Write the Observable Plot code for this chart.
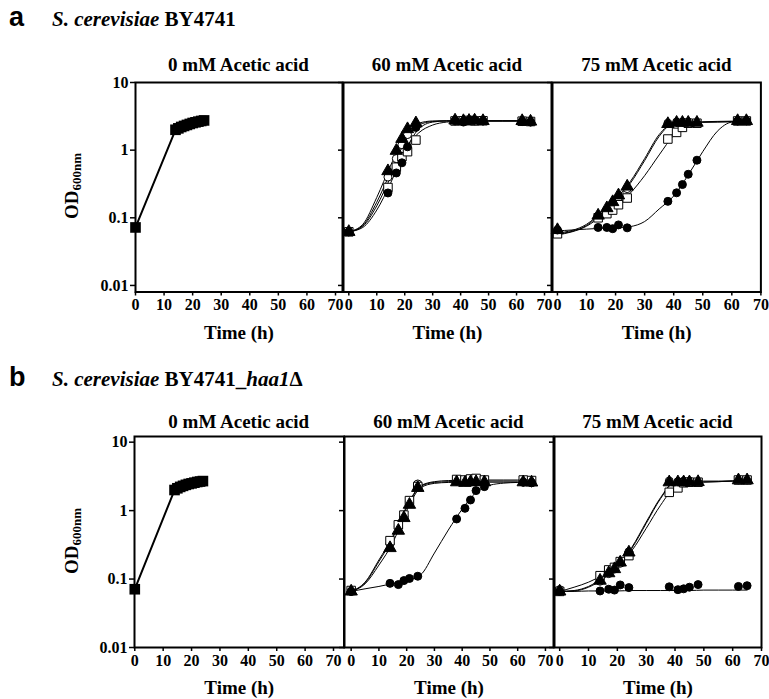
<!DOCTYPE html>
<html><head><meta charset="utf-8">
<script src="https://cdn.jsdelivr.net/npm/d3@7"></script>
<script src="https://cdn.jsdelivr.net/npm/@observablehq/plot@0.6"></script>
<style>
body{margin:0;background:#fff;}
#chart{position:relative;width:769px;height:699px;font-family:"Liberation Serif","Times New Roman",serif;color:#000;overflow:hidden;}
.abs{position:absolute;white-space:nowrap;line-height:1;}
.letter{font-family:"Liberation Sans",Arial,sans-serif;font-weight:bold;font-size:27px;}
.strain{font-weight:bold;font-size:21px;}
.ptitle{font-weight:bold;font-size:19px;text-align:center;}
.ylab{font-weight:bold;font-size:19px;transform:translate(-50%,-50%) rotate(-90deg);}
.ylab sub{font-size:13px;vertical-align:-3px;}
</style></head><body><div id="chart"></div>
<script>
// ---------- data ----------
const xTicks = [0, 10, 20, 30, 40, 50, 60, 70];
const yTicks = [0.01, 0.1, 1, 10];
const yTickLabels = ["0.01", "0.1", "1", "10"];
const panelTitles = ["0 mM Acetic acid", "60 mM Acetic acid", "75 mM Acetic acid"];

// sampling times (h)
const zeroT = [0, 14, 15, 16, 17, 18, 19, 20, 21, 22, 23, 24];
const sampleT = [0, 14, 17, 19, 21, 24, 38, 41, 43, 45, 48, 62, 65];
const fitT = [0, 5, 10, 15, 20, 25, 30, 35, 40, 45, 50, 55, 60, 65];

// series keys (marker): filled circle, open square, filled triangle, open circle
const seriesKeys = ["circle", "square", "triangle", "ocircle"];

// ----- a: S. cerevisiae BY4741 -----
const a0 = [0.072, 2.0, 2.1, 2.2, 2.28, 2.36, 2.44, 2.52, 2.58, 2.64, 2.7, 2.75];

const a60_circle   = [0.062, 0.233, 0.46, 0.65, 1.12, 2.17, 2.72, 2.6, 2.75, 2.8, 2.7, 2.65, 2.6];
const a60_square   = [0.062, 0.28, 0.56, 0.8, 0.95, 1.41, 2.7, 2.72, 2.75, 2.7, 2.72, 2.68, 2.65];
const a60_triangle = [0.062, 0.49, 0.98, 1.47, 2.05, 2.5, 2.75, 2.7, 2.72, 2.75, 2.7, 2.7, 2.65];
const a60_ocircle  = [0.062, 0.40, 0.75, 1.2, 1.7, 2.3, 2.7, 2.65, 2.7, 2.7, 2.7, 2.65, 2.62];
const a60fit_circle   = [0.062, 0.072, 0.13, 0.33, 0.95, 2.05, 2.6, 2.7, 2.7, 2.7, 2.7, 2.7, 2.7, 2.7];
const a60fit_square   = [0.062, 0.075, 0.15, 0.40, 1.0, 1.8, 2.35, 2.6, 2.68, 2.7, 2.7, 2.7, 2.7, 2.7];
const a60fit_triangle = [0.062, 0.08, 0.2, 0.6, 1.55, 2.5, 2.7, 2.72, 2.72, 2.72, 2.72, 2.72, 2.72, 2.72];
const a60fit_ocircle  = [0.062, 0.077, 0.17, 0.48, 1.3, 2.35, 2.65, 2.7, 2.7, 2.7, 2.7, 2.7, 2.7, 2.7];

const a75_circle   = [0.066, 0.072, 0.072, 0.069, 0.0785, 0.071, 0.175, 0.234, 0.31, 0.44, 0.71, 2.7, 2.72];
const a75_square   = [0.058, 0.10, 0.115, 0.13, 0.156, 0.196, 1.46, 1.83, 2.17, 2.5, 2.5, 2.7, 2.7];
const a75_triangle = [0.066, 0.108, 0.139, 0.171, 0.215, 0.29, 2.44, 2.55, 2.55, 2.55, 2.55, 2.7, 2.7];
const a75_ocircle  = [0.062, 0.105, 0.13, 0.16, 0.2, 0.27, 2.5, 2.6, 2.6, 2.6, 2.55, 2.7, 2.72];
const a75fit_circle   = [0.064, 0.066, 0.068, 0.07, 0.071, 0.074, 0.088, 0.135, 0.21, 0.43, 0.95, 1.9, 2.6, 2.7];
const a75fit_square   = [0.056, 0.062, 0.075, 0.105, 0.15, 0.23, 0.42, 0.85, 1.65, 2.4, 2.62, 2.66, 2.68, 2.7];
const a75fit_triangle = [0.06, 0.065, 0.08, 0.12, 0.19, 0.34, 0.75, 1.7, 2.5, 2.55, 2.58, 2.6, 2.62, 2.65];
const a75fit_ocircle  = [0.058, 0.063, 0.077, 0.115, 0.18, 0.32, 0.7, 1.6, 2.5, 2.58, 2.6, 2.62, 2.65, 2.68];

// ----- b: S. cerevisiae BY4741_haa1Δ -----
const b0 = [0.071, 2.0, 2.12, 2.22, 2.3, 2.38, 2.45, 2.5, 2.56, 2.62, 2.66, 2.7];

const b60_circle   = [0.066, 0.0865, 0.083, 0.095, 0.102, 0.11, 0.755, 1.08, 1.43, 1.96, 2.24, 2.6, 2.55];
const b60_square   = [0.068, 0.364, 0.62, 0.86, 1.4, 2.25, 2.85, 2.8, 2.9, 2.95, 2.8, 2.8, 2.75];
const b60_triangle = [0.066, 0.284, 0.51, 0.78, 1.22, 2.15, 2.6, 2.55, 2.6, 2.62, 2.6, 2.6, 2.58];
const b60_ocircle  = [0.066, 0.33, 0.58, 0.83, 1.35, 2.45, 2.7, 2.65, 2.7, 2.75, 2.6, 2.6, 2.55];
const b60fit_circle   = [0.066, 0.072, 0.078, 0.086, 0.096, 0.115, 0.24, 0.52, 1.05, 1.85, 2.35, 2.52, 2.58, 2.6];
const b60fit_square   = [0.066, 0.09, 0.19, 0.42, 1.15, 2.3, 2.65, 2.75, 2.78, 2.8, 2.8, 2.8, 2.8, 2.8];
const b60fit_triangle = [0.066, 0.085, 0.16, 0.34, 1.0, 2.15, 2.5, 2.58, 2.6, 2.6, 2.6, 2.6, 2.6, 2.6];
const b60fit_ocircle  = [0.066, 0.088, 0.18, 0.40, 1.1, 2.25, 2.58, 2.65, 2.68, 2.7, 2.7, 2.7, 2.7, 2.7];

const b75_circle   = [0.066, 0.067, 0.071, 0.069, 0.082, 0.075, 0.077, 0.07, 0.072, 0.076, 0.083, 0.078, 0.08];
const b75_square   = [0.066, 0.112, 0.136, 0.148, 0.18, 0.22, 1.85, 2.15, 2.55, 2.6, 2.6, 2.8, 2.8];
const b75_triangle = [0.066, 0.095, 0.122, 0.14, 0.175, 0.245, 2.6, 2.6, 2.6, 2.6, 2.62, 2.78, 2.78];
const b75_ocircle  = [0.07, 0.093, 0.12, 0.14, 0.17, 0.25, 2.7, 2.65, 2.7, 2.7, 2.65, 2.8, 2.8];
const b75fit_circle   = [0.066, 0.066, 0.067, 0.067, 0.067, 0.068, 0.068, 0.068, 0.068, 0.068, 0.069, 0.069, 0.069, 0.069];
const b75fit_square   = [0.066, 0.076, 0.09, 0.115, 0.16, 0.26, 0.55, 1.2, 2.2, 2.55, 2.6, 2.65, 2.7, 2.75];
const b75fit_triangle = [0.066, 0.067, 0.076, 0.1, 0.15, 0.28, 0.65, 1.5, 2.6, 2.62, 2.63, 2.65, 2.7, 2.72];
const b75fit_ocircle  = [0.066, 0.068, 0.078, 0.105, 0.155, 0.29, 0.68, 1.55, 2.65, 2.68, 2.7, 2.7, 2.72, 2.75];

// ---------- build ----------
const chart = document.getElementById("chart");
function rows(ts, vs, s) { return ts.map((t, i) => ({t, v: vs[i], s})); }
function group(times, arrs) { return seriesKeys.flatMap((k, i) => rows(times, arrs[i], k)); }

const markerStyle = {
  square:   {symbol: "square",   fill: "white", stroke: "black", r: 4.8},
  triangle: {symbol: "triangle", fill: "black", stroke: "black", r: 4.6},
  circle:   {symbol: "circle",   fill: "black", stroke: "black", r: 4},
  ocircle:  {symbol: "circle",   fill: "white", stroke: "black", r: 4}
};
const drawOrder = ["ocircle", "square", "triangle", "circle"];

const fontStack = "'Liberation Serif','Times New Roman',serif";

function addPanel(cfg) {
  const mL = 60, mR = 12, mT = 10, mB = 60;
  const W = cfg.fr - cfg.fl + mL + mR, H = cfg.fb - cfg.ft + mT + mB;
  const marks = [
    Plot.axisY({ticks: yTicks, tickSize: 5, tickPadding: 2, strokeWidth: 1.5,
      tickFormat: cfg.showY ? (d => yTickLabels[yTicks.indexOf(d)]) : (() => ""),
      fontSize: 16, fontWeight: "bold", label: null}),
    Plot.axisX({ticks: xTicks, tickSize: 4, tickPadding: 3, strokeWidth: 1.5,
      tickFormat: d => String(d), fontSize: 16, fontWeight: "bold", label: null}),
    Plot.text(["Time (h)"], {text: d => d, frameAnchor: "bottom", dy: 40.5, lineAnchor: "middle",
      fontSize: 19, fontWeight: "bold"})
  ];
  if (cfg.zero) {
    const d = rows(zeroT, cfg.zero, "control");
    marks.push(Plot.line(d, {x: "t", y: "v", stroke: "black", strokeWidth: 2}));
    marks.push(Plot.dot(d, {x: "t", y: "v", symbol: "square", fill: "black", r: 6}));
  } else {
    const fits = group(fitT, cfg.fit);
    const pts = group(sampleT, cfg.pts);
    marks.push(Plot.line(fits, {x: "t", y: "v", z: "s", stroke: "black", strokeWidth: 1, curve: "monotone-x"}));
    for (const k of drawOrder) {
      const st = markerStyle[k];
      marks.push(Plot.dot(pts.filter(p => p.s === k), {x: "t", y: "v", symbol: st.symbol, fill: st.fill, stroke: st.stroke, strokeWidth: 1, r: st.r}));
    }
  }
  marks.push(Plot.frame({stroke: "black", strokeWidth: 2}));
  const svg = Plot.plot({
    width: W, height: H, marginLeft: mL, marginRight: mR, marginTop: mT, marginBottom: mB,
    x: {domain: cfg.xdom},
    y: {type: "log", domain: cfg.ydom},
    style: {background: "transparent", overflow: "visible", fontFamily: fontStack, fontWeight: "bold", fontSize: "16px", color: "black"},
    marks
  });
  const wrap = document.createElement("div");
  wrap.className = "abs";
  wrap.style.left = (cfg.fl - mL) + "px";
  wrap.style.top = (cfg.ft - mT) + "px";
  wrap.style.width = W + "px";
  wrap.appendChild(svg);
  chart.appendChild(wrap);
  const t = document.createElement("div");
  t.className = "abs ptitle";
  t.style.left = cfg.fl + "px";
  t.style.width = (cfg.fr - cfg.fl) + "px";
  t.style.top = cfg.titleTop + "px";
  t.textContent = cfg.title;
  chart.appendChild(t);
}

function addHeader(letter, html, baseline) {
  const l = document.createElement("div");
  l.className = "abs letter";
  l.style.left = "9px";
  l.style.top = (baseline - 0.8465 * 27) + "px";
  l.textContent = letter;
  chart.appendChild(l);
  const s = document.createElement("div");
  s.className = "abs strain";
  s.style.left = "52px";
  s.style.top = (baseline - 0.8375 * 21) + "px";
  s.innerHTML = html;
  chart.appendChild(s);
}
function addYLabel(cx, cy) {
  const d = document.createElement("div");
  d.className = "abs ylab";
  d.style.left = cx + "px";
  d.style.top = cy + "px";
  d.innerHTML = "OD<sub>600nm</sub>";
  chart.appendChild(d);
}

addHeader("a", "<i>S. cerevisiae</i> BY4741", 26.7);
addHeader("b", "<i>S. cerevisiae</i> BY4741_<i>haa1</i>Δ", 386.7);

const rowA = {ft: 82, fb: 291.5, ydom: [0.008, 10], titleTop: 54.8};
const rowB = {ft: 436, fb: 647, ydom: [0.01, 12.1], titleTop: 412.4};

addPanel({...rowA, fl: 135, fr: 342, xdom: [0, 72.45], showY: true, zero: a0, title: panelTitles[0]});
addPanel({...rowA, fl: 343, fr: 551, xdom: [-1.9, 72.5], showY: false, title: panelTitles[1],
  pts: [a60_circle, a60_square, a60_triangle, a60_ocircle], fit: [a60fit_circle, a60fit_square, a60fit_triangle, a60fit_ocircle]});
addPanel({...rowA, fl: 552.3, fr: 760.7, xdom: [-1.7, 70], showY: false, title: panelTitles[2],
  pts: [a75_circle, a75_square, a75_triangle, a75_ocircle], fit: [a75fit_circle, a75fit_square, a75fit_triangle, a75fit_ocircle]});

addPanel({...rowB, fl: 134, fr: 343.5, xdom: [-0.1, 73.7], showY: true, zero: b0, title: panelTitles[0]});
addPanel({...rowB, fl: 344, fr: 553, xdom: [-2.4, 72.9], showY: false, title: panelTitles[1],
  pts: [b60_circle, b60_square, b60_triangle, b60_ocircle], fit: [b60fit_circle, b60fit_square, b60fit_triangle, b60fit_ocircle]});
addPanel({...rowB, fl: 554, fr: 761, xdom: [-1.8, 70], showY: false, title: panelTitles[2],
  pts: [b75_circle, b75_square, b75_triangle, b75_ocircle], fit: [b75fit_circle, b75fit_square, b75fit_triangle, b75fit_ocircle]});

addYLabel(72, 186);
addYLabel(72, 541);
</script></body></html>
